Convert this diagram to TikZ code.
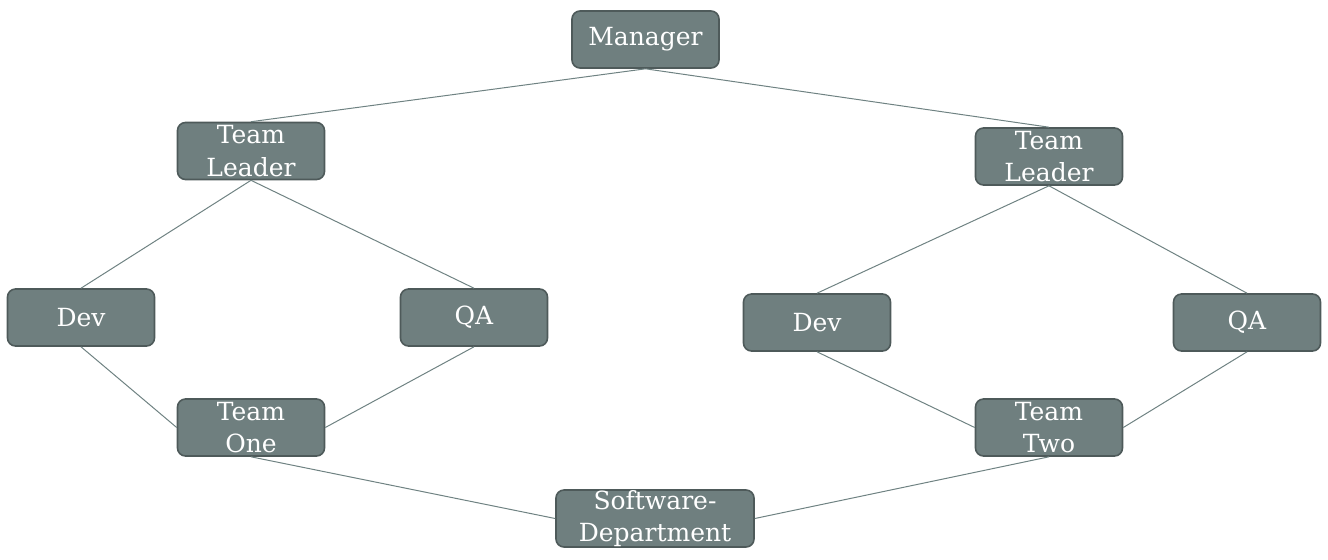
\documentclass[tikz,border=0pt]{standalone}
\usepackage{fontspec}
\setmainfont{DejaVu Serif}
\usetikzlibrary{positioning}
\definecolor{boxfill}{HTML}{6F7F7F}
\definecolor{boxline}{HTML}{4E5A5A}
\definecolor{linkline}{HTML}{6F8282}
\tikzstyle{box}  =[rectangle, rounded corners=4pt, draw=boxline,
                   fill=boxfill, line width=0.8pt, text=white,
                   minimum width=73.5pt, minimum height=28.5pt,
                   inner sep=0pt, align=center,
                   font=\fontsize{12.5}{16.2}\selectfont]
\tikzstyle{link} =[draw=linkline, line width=0.5pt]
\begin{document}
\begin{tikzpicture}[x=0.5pt, y=-0.5pt]
            \useasboundingbox (0,0) rectangle (1328,559);
            \node (mgr) [box] at (645.5, 39.5) {Manager};
            \node (tl1) [box] at (251, 151) {Team\\Leader};
            \node (tl2) [box] at (1049, 156.5) {Team\\Leader};
            \node (dev1) [box] at (81, 317.5) {Dev};
            \node (qa1) [box] at (474, 317.5) {QA};
            \node (dev2) [box] at (817, 322.5) {Dev};
            \node (qa2) [box] at (1247, 322.5) {QA};
            \node (team1) [box] at (251, 427.5) {Team\\One};
            \node (team2) [box] at (1049, 427.5) {Team\\Two};
            \node (dept) [box, minimum width=99pt] at (655, 518.5) {Software-\\Department};
            \draw [link] (mgr.south) to (tl1.north);
            \draw [link] (mgr.south) to (tl2.north);
            \draw [link] (tl1.south) to (dev1.north);
            \draw [link] (tl1.south) to (qa1.north);
            \draw [link] (tl2.south) to (dev2.north);
            \draw [link] (tl2.south) to (qa2.north);
            \draw [link] (dev1.south) to (team1.west);
            \draw [link] (qa1.south) to (team1.east);
            \draw [link] (dev2.south) to (team2.west);
            \draw [link] (qa2.south) to (team2.east);
            \draw [link] (team1.south) to (dept.west);
            \draw [link] (team2.south) to (dept.east);

        \end{tikzpicture}
\end{document}
